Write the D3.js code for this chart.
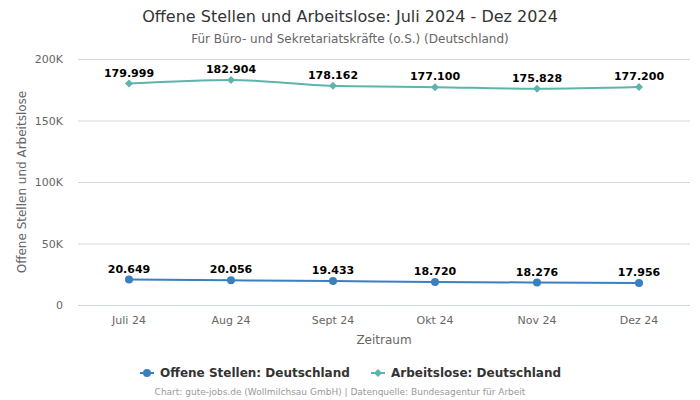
<!DOCTYPE html>
<html><head><meta charset="utf-8">
<script src="https://cdn.jsdelivr.net/npm/d3@7"></script>
<style>body{margin:0;background:#fff;font-family:"DejaVu Sans",sans-serif}</style>
</head><body><svg id="c" width="700" height="400"></svg>
<script>
const categories = ["Juli 24","Aug 24","Sept 24","Okt 24","Nov 24","Dez 24"];
const offeneStellen = [20649,20056,19433,18720,18276,17956];
const arbeitslose = [179999,182904,178162,177100,175828,177200];
const yTicks = [0,50000,100000,150000,200000];
const yTickLabels = ["0","50K","100K","150K","200K"];
const seriesNames = ["Offene Stellen: Deutschland","Arbeitslose: Deutschland"];
const colors = ["#3a7fbf","#5bb5ad"];

const svg = d3.select("#c");
const fmt = v => d3.format(",")(v).replace(/,/g,".");
const x = d3.scaleBand().domain(categories).range([78,690]);
const y = d3.scaleLinear().domain([0,200000]).range([305,59]);

svg.append("text").attr("x",350).attr("y",22).attr("text-anchor","middle")
  .attr("font-size",16).attr("fill","#333").text("Offene Stellen und Arbeitslose: Juli 2024 - Dez 2024");
svg.append("text").attr("x",350).attr("y",43).attr("text-anchor","middle")
  .attr("font-size",12).attr("fill","#666").text("Für Büro- und Sekretariatskräfte (o.S.) (Deutschland)");

// grid
svg.append("g").selectAll("line").data(yTicks).join("line")
  .attr("x1",78).attr("x2",690).attr("y1",d=>y(d)+0.5).attr("y2",d=>y(d)+0.5)
  .attr("stroke",(d,i)=>i===0?"#ccd6eb":"#d8d8d8").attr("stroke-width",1);
svg.append("g").selectAll("text").data(yTicks).join("text")
  .attr("x",63).attr("y",d=>y(d)+4).attr("text-anchor","end")
  .attr("font-size",11).attr("fill","#666").text((d,i)=>yTickLabels[i]);
svg.append("g").selectAll("text").data(categories).join("text")
  .attr("x",d=>x(d)+x.bandwidth()/2).attr("y",324).attr("text-anchor","middle")
  .attr("font-size",11).attr("fill","#666").text(d=>d);
svg.append("text").attr("x",384).attr("y",344).attr("text-anchor","middle")
  .attr("font-size",12).attr("fill","#666").text("Zeitraum");
svg.append("text").attr("transform","translate(26,182) rotate(-90)").attr("text-anchor","middle")
  .attr("font-size",12).attr("fill","#666").text("Offene Stellen und Arbeitslose");

const cx = d => x(d)+x.bandwidth()/2;
const line = d3.line().x(d=>cx(d[0])).y(d=>y(d[1])).curve(d3.curveMonotoneX);
[offeneStellen, arbeitslose].forEach((vals,si)=>{
  const data = categories.map((c,i)=>[c,vals[i]]);
  svg.append("path").datum(data).attr("d",line).attr("fill","none")
    .attr("stroke",colors[si]).attr("stroke-width",2);
  const g = svg.append("g");
  if(si===0){
    g.selectAll("circle").data(data).join("circle").attr("cx",d=>cx(d[0])).attr("cy",d=>y(d[1]))
      .attr("r",4).attr("fill",colors[si]);
  } else {
    g.selectAll("path").data(data).join("path")
      .attr("transform",d=>`translate(${cx(d[0])},${y(d[1])})`)
      .attr("d","M0,-4L4,0L0,4L-4,0Z").attr("fill",colors[si]);
  }
  svg.append("g").selectAll("text").data(data).join("text")
    .attr("x",d=>cx(d[0])).attr("y",d=>y(d[1])-7).attr("text-anchor","middle")
    .attr("font-size",11).attr("font-weight","bold").attr("fill","#000")
    .attr("stroke","#fff").attr("stroke-width",2).attr("paint-order","stroke")
    .text(d=>fmt(d[1]));
});

// legend
const leg = [{x:140,name:seriesNames[0],c:colors[0],shape:"circle"},{x:371,name:seriesNames[1],c:colors[1],shape:"diamond"}];
leg.forEach(l=>{
  const g = svg.append("g");
  g.append("line").attr("x1",l.x).attr("x2",l.x+14).attr("y1",373).attr("y2",373).attr("stroke",l.c).attr("stroke-width",2);
  if(l.shape==="circle") g.append("circle").attr("cx",l.x+7).attr("cy",373).attr("r",4).attr("fill",l.c);
  else g.append("path").attr("transform",`translate(${l.x+7},373)`).attr("d","M0,-4L4,0L0,4L-4,0Z").attr("fill",l.c);
  g.append("text").attr("x",l.x+20).attr("y",377).attr("font-size",12).attr("font-weight","bold").attr("fill","#333").text(l.name);
});
svg.append("text").attr("x",340).attr("y",395).attr("text-anchor","middle")
  .attr("font-size",9).attr("fill","#999").text("Chart: gute-jobs.de (Wollmilchsau GmbH) | Datenquelle: Bundesagentur für Arbeit");
</script></body></html>
